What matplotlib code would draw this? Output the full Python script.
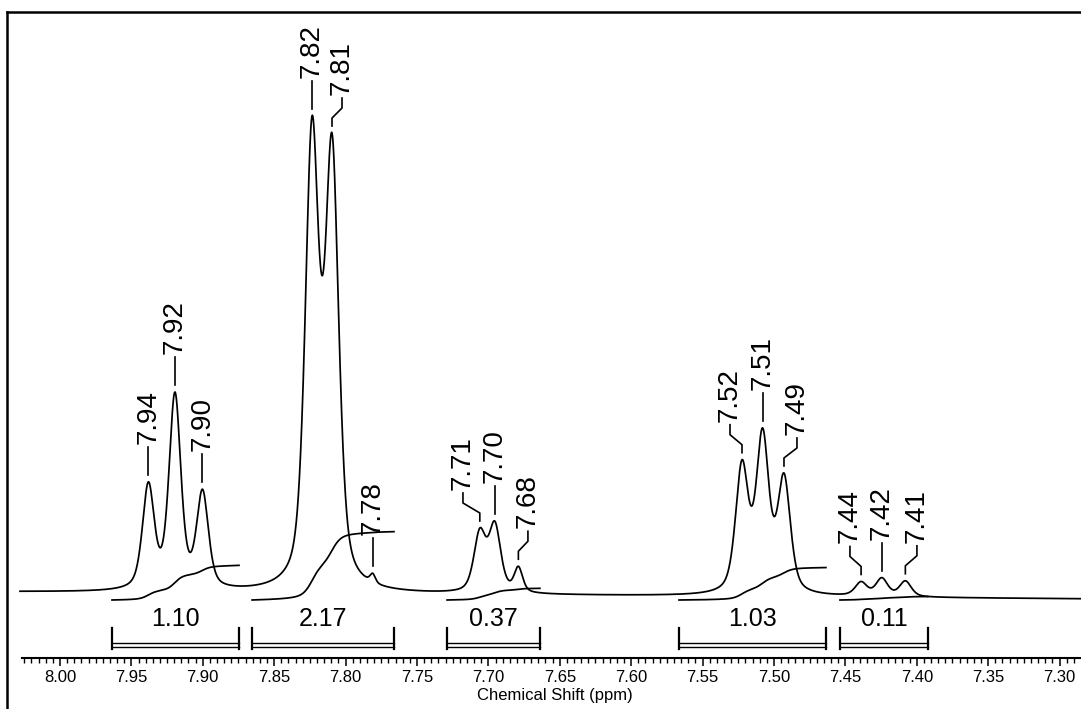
import numpy as np
import matplotlib.pyplot as plt
from matplotlib.ticker import FixedLocator

plt.rcParams['font.family'] = ['Liberation Sans', 'DejaVu Sans']

# picked peaks: shift (ppm), height above baseline, half width (ppm)
peak_ppm = [7.9381, 7.9195, 7.9002, 7.8235, 7.8095, 7.7810,
            7.7060, 7.6955, 7.6790, 7.5224, 7.5080, 7.4930,
            7.4390, 7.4245, 7.4080]
peak_height = [111, 201, 104, 478, 461, 21,
               67, 74, 29, 137, 169, 124,
               16, 20, 17]
peak_hwhm = [0.0049, 0.0049, 0.0049, 0.0056, 0.0056, 0.0022,
             0.0049, 0.0049, 0.0035, 0.0053, 0.0053, 0.0053,
             0.0049, 0.0049, 0.0049]

# where each shift label sits (ppm)
label_ppm = [7.9381, 7.9195, 7.9002, 7.8235, 7.8025, 7.7810,
             7.7178, 7.6955, 7.6723, 7.5308, 7.5080, 7.4839,
             7.4468, 7.4245, 7.3999]

# integration regions
int_start = [7.9636, 7.8655, 7.7290, 7.5665, 7.4538]
int_end = [7.8746, 7.7661, 7.6639, 7.4636, 7.3922]
int_value = [1.10, 2.17, 0.37, 1.03, 0.11]

major_ticks = np.round(np.arange(7.30, 8.001, 0.05), 2)
minor_ticks = np.round(np.arange(7.290, 8.0251, 0.005), 3)


def pseudo_voigt(x, x0, w, eta=0.5):
    d = (x - x0) / w
    return eta / (1 + d**2) + (1 - eta) * np.exp(-np.log(2) * d**2)


ppm = np.linspace(8.028, 7.2855, 8000)
tilt = 9.3
baseline = tilt * (ppm - ppm[0])

# solve line amplitudes so the summed trace hits the picked heights
pk = np.array(peak_ppm)
wd = np.array(peak_hwhm)
M = pseudo_voigt(pk[:, None], pk[None, :], wd[None, :])
amps = np.linalg.solve(M, np.array(peak_height, dtype=float))

spec = baseline.copy()
for a, p, w in zip(amps, pk, wd):
    spec += a * pseudo_voigt(ppm, p, w)
peak_top = tilt * (pk - ppm[0]) + np.array(peak_height)

fig = plt.figure(figsize=(10.81, 7.09), dpi=100)
# open frame: left and top only, bottom edge hangs below the figure
ax = fig.add_axes([7 / 1081, -10 / 709, 1074 / 1081, 707 / 709])
ax.set_xlim(8.0371, 7.2850)
ax.set_ylim(-127, 580)

ax.plot(ppm, spec, color='black', lw=1.25)

# integral curves and brackets
int_unit = 31.5
for s, e, v in zip(int_start, int_end, int_value):
    m = (ppm <= s) & (ppm >= e)
    seg = np.clip(spec[m] - baseline[m], 0, None)
    cum = np.cumsum(seg)
    cum = cum / cum[-1] * v * int_unit - 8
    ax.plot(ppm[m], cum, color='black', lw=1.25)

    ax.plot([s, s], [-36, -57], color='black', lw=1.6)
    ax.plot([e, e], [-36, -57], color='black', lw=1.6)
    ax.plot([s, e], [-51, -51], color='black', lw=1.0)
    ax.plot([s, e], [-55, -55], color='black', lw=1.0)
    ax.text((s + e) / 2, -34, f'{v:.2f}', ha='center', va='baseline',
            fontsize=18)

# shift labels with leader lines
for p, lp, h in zip(pk, label_ppm, peak_top):
    y0 = h + 7
    if abs(lp - p) < 1e-4:
        xs, ys = [p, p], [y0, y0 + 28]
    else:
        xs, ys = [p, p, lp, lp], [y0, y0 + 8, y0 + 18, y0 + 28]
    ax.plot(xs, ys, color='black', lw=1.2)
    ax.text(lp, y0 + 31, f'{p:.2f}', rotation=90, ha='center',
            va='bottom', fontsize=20)

ax.spines['right'].set_visible(False)
ax.spines['top'].set_linewidth(1.8)
ax.spines['left'].set_linewidth(1.8)
ax.spines['bottom'].set_position(('data', -66))
ax.spines['bottom'].set_bounds(7.2850, 8.0266)
ax.spines['bottom'].set_linewidth(1.5)

ax.set_xticks(major_ticks)
ax.set_xticklabels([f'{t:.2f}' for t in major_ticks])
ax.xaxis.set_minor_locator(FixedLocator(minor_ticks))
ax.tick_params(axis='x', which='major', direction='out', length=6,
               width=1.1, labelsize=12, pad=3)
ax.tick_params(axis='x', which='minor', direction='out', length=3.5,
               width=1.0)
ax.tick_params(axis='y', which='both', left=False, right=False,
               labelleft=False)
ax.set_xlabel('Chemical Shift (ppm)', fontsize=12)
ax.xaxis.set_label_coords(548 / 1074, 31 / 707)

fig.savefig('out.png', dpi=100)
